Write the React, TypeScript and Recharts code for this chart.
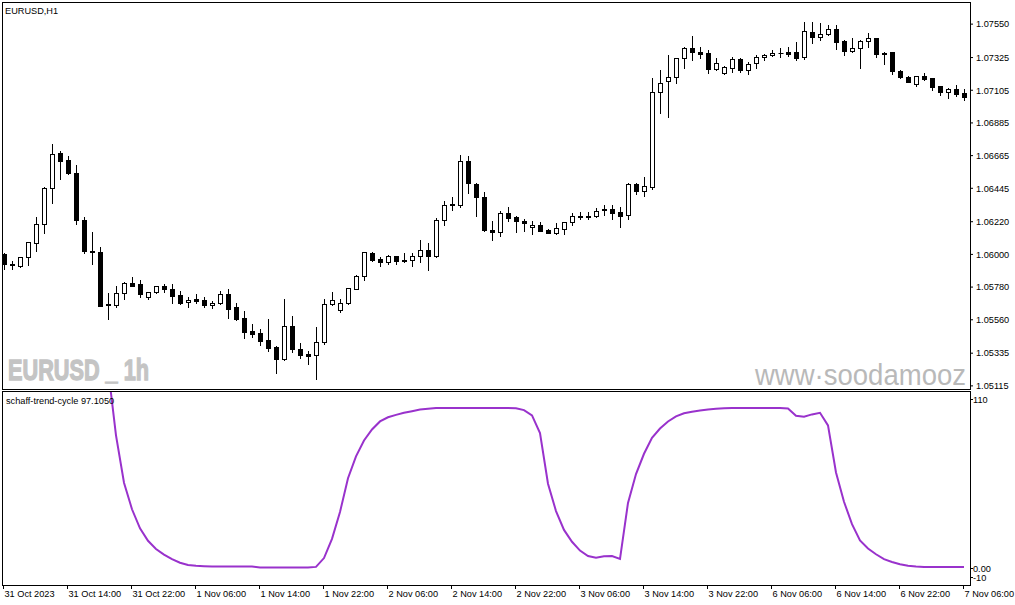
import { Bar, ComposedChart, Line, LineChart, XAxis, YAxis } from "recharts"

// EURUSD H1, 31 Oct 06:00 .. 7 Nov 06:00 (121 bars)
const OPEN = [
  1.06003, 1.05933, 1.05924, 1.0598, 1.06075, 1.06202, 1.06445, 1.0668, 1.06635, 1.06548,
  1.06231, 1.06022, 1.06014, 1.0566, 1.05661, 1.05738, 1.05805, 1.05799, 1.05711, 1.05745,
  1.05789, 1.05767, 1.05727, 1.05677, 1.05698, 1.05691, 1.05657, 1.05671, 1.05733, 1.05646,
  1.05572, 1.05485, 1.05471, 1.05424, 1.05377, 1.05294, 1.05518, 1.05361, 1.05328, 1.05321,
  1.05408, 1.05664, 1.05624, 1.05673, 1.05769, 1.05857, 1.06009, 1.05969, 1.05947, 1.05987,
  1.05962, 1.0596, 1.05987, 1.06028, 1.05991, 1.06229, 1.06337, 1.0633, 1.06631, 1.06474,
  1.06384, 1.06164, 1.06149, 1.06277, 1.0625, 1.06225, 1.06182, 1.06198, 1.06162, 1.06146,
  1.06169, 1.06216, 1.0626, 1.06258, 1.06256, 1.06307, 1.06305, 1.06285, 1.06263, 1.06474,
  1.06425, 1.06452, 1.07091, 1.07165, 1.07196, 1.0732, 1.07389, 1.07362, 1.07353, 1.07246,
  1.07219, 1.07252, 1.07315, 1.07239, 1.07286, 1.07326, 1.0734, 1.07353, 1.07362, 1.0736,
  1.07328, 1.07495, 1.07465, 1.07481, 1.07515, 1.07438, 1.07371, 1.07387, 1.07434, 1.07458,
  1.07351, 1.07364, 1.07234, 1.07196, 1.07147, 1.07201, 1.07185, 1.07133, 1.07095, 1.07113,
  1.07086,
]
const HIGH = [
  1.0601, 1.05958, 1.05985, 1.06085, 1.0625, 1.06456, 1.06743, 1.06696, 1.06662, 1.06602,
  1.0625, 1.06151, 1.06048, 1.05738, 1.05789, 1.05812, 1.0585, 1.05828, 1.05748, 1.0579,
  1.05799, 1.05799, 1.05754, 1.05715, 1.05733, 1.05711, 1.05684, 1.05754, 1.05767, 1.05671,
  1.05619, 1.0553, 1.05496, 1.05565, 1.05384, 1.057, 1.05585, 1.05402, 1.05348, 1.05511,
  1.057, 1.05747, 1.05698, 1.05777, 1.05862, 1.06016, 1.06016, 1.05982, 1.05996, 1.0599,
  1.06007, 1.06007, 1.06097, 1.06075, 1.06243, 1.06361, 1.06384, 1.06667, 1.06662, 1.06478,
  1.06422, 1.06223, 1.0629, 1.06319, 1.06258, 1.06236, 1.06223, 1.06218, 1.06169, 1.06209,
  1.06218, 1.06279, 1.06283, 1.06283, 1.06312, 1.06332, 1.06332, 1.06319, 1.06478, 1.06478,
  1.06521, 1.07187, 1.07241, 1.07342, 1.07325, 1.07398, 1.0747, 1.07396, 1.07377, 1.0732,
  1.0727, 1.0733, 1.0732, 1.07297, 1.07342, 1.07347, 1.07376, 1.07391, 1.07398, 1.07431,
  1.07566, 1.07566, 1.07557, 1.07544, 1.07544, 1.0744, 1.07454, 1.0744, 1.07488, 1.0746,
  1.07364, 1.07364, 1.07241, 1.07203, 1.07201, 1.07221, 1.07189, 1.07135, 1.0712, 1.0714,
  1.07111,
]
const LOW = [
  1.05902, 1.059, 1.05917, 1.05931, 1.06025, 1.06146, 1.06348, 1.06509, 1.06541, 1.06202,
  1.06007, 1.05937, 1.0565, 1.05563, 1.05648, 1.05698, 1.05789, 1.05715, 1.05702, 1.05742,
  1.05748, 1.05675, 1.05664, 1.05648, 1.05675, 1.05648, 1.05641, 1.05668, 1.05574, 1.0556,
  1.05439, 1.05446, 1.05392, 1.05352, 1.05204, 1.05292, 1.05345, 1.05305, 1.0526, 1.05159,
  1.05399, 1.0566, 1.05614, 1.05668, 1.05767, 1.05826, 1.05958, 1.05924, 1.05933, 1.05937,
  1.05949, 1.05924, 1.05951, 1.05897, 1.0598, 1.062, 1.06299, 1.06317, 1.06411, 1.0626,
  1.0616, 1.06095, 1.06126, 1.06225, 1.06153, 1.0616, 1.06137, 1.0616, 1.06144, 1.06137,
  1.06137, 1.062, 1.06236, 1.06236, 1.06254, 1.06265, 1.0624, 1.06186, 1.06236, 1.06408,
  1.06393, 1.06442, 1.06954, 1.06927, 1.07151, 1.07252, 1.07306, 1.0732, 1.07219, 1.07244,
  1.07217, 1.0723, 1.0723, 1.07216, 1.07256, 1.07308, 1.07338, 1.07326, 1.07333, 1.0731,
  1.07315, 1.07425, 1.07443, 1.07479, 1.07382, 1.07342, 1.0736, 1.07256, 1.07398, 1.07328,
  1.07283, 1.07214, 1.0719, 1.07158, 1.07135, 1.07172, 1.07106, 1.07073, 1.07054, 1.07068,
  1.07039,
]
const CLOSE = [
  1.05933, 1.05928, 1.0598, 1.06081, 1.06202, 1.06445, 1.06674, 1.06631, 1.0655, 1.06231,
  1.06025, 1.06016, 1.05653, 1.05666, 1.05738, 1.05809, 1.05789, 1.05735, 1.05745, 1.05787,
  1.05769, 1.05722, 1.05675, 1.05691, 1.05688, 1.05661, 1.05673, 1.05731, 1.05634, 1.05565,
  1.0548, 1.05466, 1.05419, 1.05372, 1.05298, 1.05516, 1.05361, 1.05325, 1.05318, 1.05408,
  1.05664, 1.05691, 1.05671, 1.05774, 1.05853, 1.06014, 1.05964, 1.05947, 1.05987, 1.05954,
  1.05954, 1.05987, 1.06028, 1.05991, 1.06229, 1.06334, 1.0633, 1.06631, 1.06478, 1.06388,
  1.06164, 1.06149, 1.06277, 1.06247, 1.06223, 1.06209, 1.06198, 1.0616, 1.06146, 1.06178,
  1.06218, 1.06258, 1.0625, 1.06249, 1.06292, 1.06297, 1.06281, 1.0626, 1.06472, 1.06425,
  1.0646, 1.07091, 1.07151, 1.07192, 1.0732, 1.07389, 1.0736, 1.07351, 1.07246, 1.07286,
  1.07261, 1.07315, 1.07239, 1.07281, 1.07328, 1.0734, 1.07353, 1.07356, 1.07347, 1.0732,
  1.07503, 1.07465, 1.07481, 1.07515, 1.07431, 1.07371, 1.07387, 1.07436, 1.07454, 1.07351,
  1.07355, 1.07236, 1.07192, 1.07162, 1.07201, 1.07178, 1.07128, 1.07095, 1.07111, 1.07079,
  1.07061,
]

// schaff trend cycle, nothing drawn before bar 13
const STC = [
  null, null, null, null, null, null, null, null, null, null,
  null, null, null, 125, 82.9, 53.3, 36.7, 24.8, 17.0, 11.9,
  8.4, 5.5, 3.3, 1.9, 1.4, 1.1, 0.9, 0.9, 0.9, 0.9,
  0.9, 0.9, 0.3, 0.3, 0.3, 0.3, 0.3, 0.3, 0.3, 0.7,
  6.2, 18.2, 35.0, 56.1, 69.8, 79.7, 86.6, 91.6, 94.2, 95.7,
  97.0, 98.0, 99.0, 99.5, 100, 100, 100, 100, 100, 100,
  100, 100, 100, 100, 99.9, 98.7, 95.4, 84.3, 52.7, 35.6,
  23.8, 16.4, 10.9, 7.5, 6.4, 7.4, 7.5, 5.7, 40.7, 58.7,
  71.4, 81.4, 87.2, 91.6, 94.8, 96.7, 97.7, 98.4, 99.1, 99.5,
  99.9, 100, 100, 100, 100, 100, 100, 100, 99.7, 95.2,
  94.5, 96.0, 97.0, 89.1, 59.7, 41.4, 27.4, 17.2, 12.2, 8.6,
  5.5, 3.8, 2.4, 1.4, 0.9, 0.6, 0.6, 0.6, 0.6, 0.6,
  0.6,
]

const TIME_LABELS = [
  "31 Oct 2023", "31 Oct 14:00", "31 Oct 22:00", "1 Nov 06:00", "1 Nov 14:00", "1 Nov 22:00",
  "2 Nov 06:00", "2 Nov 14:00", "2 Nov 22:00", "3 Nov 06:00", "3 Nov 14:00", "3 Nov 22:00",
  "6 Nov 06:00", "6 Nov 14:00", "6 Nov 22:00", "7 Nov 06:00",
]
const PRICE_TICKS = [
  1.0755, 1.07325, 1.07105, 1.06885, 1.06665, 1.06445, 1.0622, 1.06, 1.0578, 1.0556, 1.05335, 1.05115,
]
const STC_TICKS = [110, 0, -10]

const FONT = "'Liberation Sans', Arial, sans-serif"
const X_DOMAIN = [-0.25, 120.75]
const TIME_TICKS = TIME_LABELS.map((_, k) => k * 8)

const candles = OPEN.map((o, i) => ({
  i,
  o,
  h: HIGH[i],
  l: LOW[i],
  c: CLOSE[i],
  range: [LOW[i], HIGH[i]],
}))
const stcData = STC.map((v, i) => ({ i, v }))

function Candle(props: any) {
  const { x, y, width, height, payload } = props
  const { o, h, l, c } = payload
  const cx = Math.round(x + width / 2) + 0.5
  const span = h - l || 1
  const toY = (p: number) => y + ((h - p) / span) * height
  const top = Math.round(toY(Math.max(o, c))) + 0.5
  const bot = Math.round(toY(Math.min(o, c))) + 0.5
  const bull = c > o
  return (
    <g>
      <line x1={cx} x2={cx} y1={Math.round(y)} y2={Math.round(y + height) + 1} stroke="#000" />
      {bot - top < 1 ? (
        <line x1={cx - 2} x2={cx + 3} y1={top} y2={top} stroke="#000" />
      ) : (
        <rect x={cx - 2} y={top} width={4} height={bot - top} fill={bull ? "#fff" : "#000"} stroke="#000" />
      )}
    </g>
  )
}

function TimeTick(props: any) {
  const { x, y, payload } = props
  const px = Math.round(x) - 0.5
  return (
    <g>
      <line x1={px} x2={px} y1={y + 1} y2={y + 5} stroke="#000" />
      <text x={px + 1} y={y + 13} fontSize={9.2} fontFamily={FONT} fill="#000">
        {TIME_LABELS[Math.round(payload.value / 8)]}
      </text>
    </g>
  )
}

function StcTick(props: any) {
  const { x, y, payload } = props
  const v = payload.value
  const ty = Math.round(y + (v === 110 ? 7 : v === -10 ? -7 : 0)) + 0.5
  return (
    <g>
      <line x1={x} x2={x + 3} y1={ty} y2={ty} stroke="#000" />
      <text x={x + 3} y={ty + 3.5} fontSize={9.2} fontFamily={FONT} fill="#000">
        {v === 0 ? "0.00" : String(v)}
      </text>
    </g>
  )
}

export default function App() {
  return (
    <div style={{ position: "relative", width: 1015, height: 605, background: "#fff", overflow: "hidden" }}>
      <style>{"body{margin:0;background:#fff}"}</style>

      <div style={{ position: "absolute", left: 0, top: 0 }}>
        <ComposedChart width={1015} height={391} data={candles} margin={{ top: 2, right: 0, bottom: 2, left: 2 }}>
          <XAxis dataKey="i" type="number" domain={X_DOMAIN} hide allowDataOverflow />
          <YAxis
            orientation="right"
            type="number"
            width={45}
            domain={[1.05094, 1.07699]}
            ticks={PRICE_TICKS}
            interval={0}
            allowDataOverflow
            axisLine={false}
            tickLine={{ stroke: "#000" }}
            tickSize={3}
            tickMargin={3}
            tickFormatter={(v: number) => v.toFixed(5)}
            tick={{ fill: "#000", fontSize: 9.2, fontFamily: FONT }}
          />
          <Bar dataKey="range" barSize={5} shape={<Candle />} isAnimationActive={false} />
        </ComposedChart>
      </div>

      <div style={{ position: "absolute", left: 0, top: 391 }}>
        <LineChart width={1015} height={214} data={stcData} margin={{ top: 1, right: 0, bottom: 0, left: 2 }}>
          <XAxis
            dataKey="i"
            type="number"
            domain={X_DOMAIN}
            ticks={TIME_TICKS}
            interval={0}
            height={21}
            allowDataOverflow
            axisLine={false}
            tickLine={false}
            tickSize={0}
            tickMargin={0}
            tick={<TimeTick />}
          />
          <YAxis
            orientation="right"
            type="number"
            width={45}
            domain={[-10, 110]}
            ticks={STC_TICKS}
            interval={0}
            allowDataOverflow
            axisLine={false}
            tickLine={false}
            tickSize={0}
            tickMargin={0}
            tick={<StcTick />}
          />
          <Line
            dataKey="v"
            type="linear"
            stroke="#9932CC"
            strokeWidth={2}
            dot={false}
            activeDot={false}
            connectNulls={false}
            isAnimationActive={false}
          />
        </LineChart>
      </div>

      {/* panel frames */}
      <div style={{ position: "absolute", left: 2, top: 2, width: 969, height: 388, border: "1px solid #000", boxSizing: "border-box", pointerEvents: "none" }} />
      <div style={{ position: "absolute", left: 2, top: 391, width: 969, height: 195, border: "1px solid #000", boxSizing: "border-box", pointerEvents: "none" }} />

      <svg width={1015} height={605} style={{ position: "absolute", left: 0, top: 0, pointerEvents: "none" }}>
        <text x={5} y={14} fontSize={9.2} fontFamily={FONT} fill="#000">EURUSD,H1</text>
        <text x={6} y={404} fontSize={9.2} fontFamily={FONT} fill="#000">schaff-trend-cycle 97.1050</text>
        <text
          x={8}
          y={380}
          fontSize={29}
          fontWeight="bold"
          fontFamily={FONT}
          fill="#c4c4c4"
          stroke="#c4c4c4"
          strokeWidth={1.3}
          textLength={141}
          lengthAdjust="spacingAndGlyphs"
        >
          EURUSD _ 1h
        </text>
        <text
          x={755}
          y={385}
          fontSize={29}
          fontFamily={FONT}
          fill="#b9b9b9"
          textLength={211}
          lengthAdjust="spacingAndGlyphs"
        >
          www·soodamooz
        </text>
      </svg>
    </div>
  )
}
